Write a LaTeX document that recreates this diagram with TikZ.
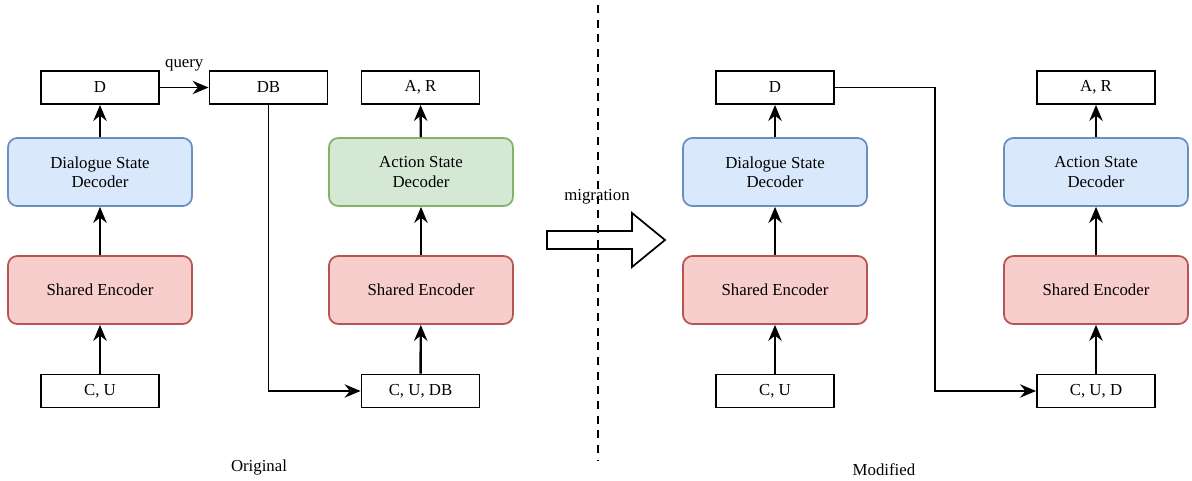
\documentclass[tikz,border=0pt]{standalone}
\usepackage{fontspec}
\setmainfont{Liberation Serif}
\usetikzlibrary{arrows.meta}
\definecolor{bluef}{HTML}{DAE8FC}\definecolor{blued}{HTML}{6C8EBF}
\definecolor{redf}{HTML}{F8CECC}\definecolor{redd}{HTML}{B85450}
\definecolor{greenf}{HTML}{D5E8D4}\definecolor{greend}{HTML}{82B366}
\begin{document}
\begin{tikzpicture}[x=0.75pt,y=-0.75pt,
  every node/.style={font=\fontsize{12.6}{14.5}\selectfont},
  plain/.style={draw=black,line width=1.4pt,minimum width=88.5pt,minimum height=24.75pt,inner sep=0pt},
  round/.style={draw,line width=1.3pt,rounded corners=7pt,minimum width=138pt,minimum height=51pt,align=center,inner sep=0pt},
  blk/.style={round,fill=bluef,draw=blued},
  red/.style={round,fill=redf,draw=redd},
  grn/.style={round,fill=greenf,draw=greend},
  up/.style={-{Stealth[length=12pt,width=10pt,inset=4pt]},line width=1.8pt},
  conn/.style={-{Stealth[length=12pt,width=10pt,inset=4pt]},line width=1.3pt}]
\useasboundingbox (0,0) rectangle (1192,481);
% Original
\node[plain] (d1) at (100,87.5) {D};
\node[plain] (db) at (268.5,87.5) {DB};
\node[plain] (ar1) at (420.5,87.5) {A, R};
\node[blk] (dsd1) at (100,172) {Dialogue State\\Decoder};
\node[red] (se1) at (100,290) {Shared Encoder};
\node[plain] (cu1) at (100,391) {C, U};
\node[grn] (asd1) at (421,172) {Action State\\Decoder};
\node[red] (se2) at (421,290) {Shared Encoder};
\node[plain] (cudb) at (420.5,391) {C, U, DB};
\draw[up] (cu1) -- (se1);
\draw[up] (se1) -- (dsd1);
\draw[up] (dsd1) -- (d1);
\draw[up] (cudb) -- (se2);
\draw[up] (se2) -- (asd1);
\draw[up] (asd1) -- (ar1);
\draw[conn] (d1) -- node[above=8pt] {query} (db);
\draw[conn] (db.south) |- (cudb.west);
\node (orig) at (259,467) {Original};
% migration arrow
\draw[line width=1.3pt,fill=white] (547,231) -- (632,231) -- (632,213) -- (665,240) -- (632,267) -- (632,249) -- (547,249) -- cycle;
\node (mig) at (597,197) {migration};
% separator
\coordinate (s1) at (598,5);
\coordinate (s2) at (598,460);
\draw[line width=1.3pt,dash pattern=on 6pt off 5pt] (s1) -- (s2);
% Modified
\node[plain] (d2) at (775,87.5) {D};
\node[plain] (ar2) at (1096,87.5) {A, R};
\node[blk] (dsd2) at (775,172) {Dialogue State\\Decoder};
\node[red] (se3) at (775,290) {Shared Encoder};
\node[plain] (cu2) at (775,391) {C, U};
\node[blk] (asd2) at (1096,172) {Action State\\Decoder};
\node[red] (se4) at (1096,290) {Shared Encoder};
\node[plain] (cud) at (1096,391) {C, U, D};
\draw[up] (cu2) -- (se3);
\draw[up] (se3) -- (dsd2);
\draw[up] (dsd2) -- (d2);
\draw[up] (cud) -- (se4);
\draw[up] (se4) -- (asd2);
\draw[up] (asd2) -- (ar2);
\coordinate (k1) at (935,87.5);
\draw[conn] (d2.east) -- (k1) |- (cud.west);
\node (modl) at (884,470) {Modified};
\end{tikzpicture}
\end{document}
